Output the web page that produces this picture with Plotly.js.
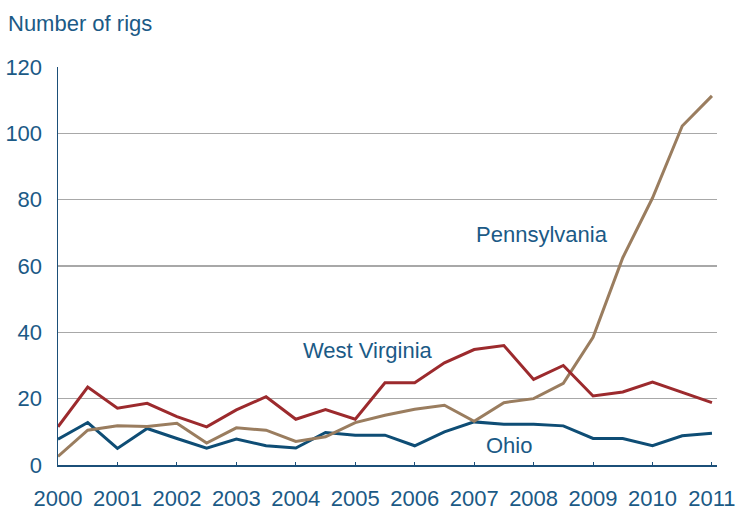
<!DOCTYPE html>
<html>
<head>
<meta charset="utf-8">
<script src="https://cdn.plot.ly/plotly-3.0.1.min.js"></script>
<style>html,body{margin:0;padding:0;background:#fff;}#chart{width:737px;height:510px;}</style>
</head>
<body>
<div id="chart"></div>
<script>
// Half-year observation points
const periods = [2000,2000.5,2001,2001.5,2002,2002.5,2003,2003.5,2004,2004.5,2005,2005.5,2006,2006.5,2007,2007.5,2008,2008.5,2009,2009.5,2010,2010.5,2011];
const westVirginia = [11.5,23.5,17.1,18.6,14.6,11.5,16.6,20.6,13.8,16.7,13.8,24.8,24.8,30.8,34.8,36,25.8,30,20.8,22,25,22,18.8];
const pennsylvania = [2.6,10.5,11.8,11.6,12.6,6.6,11.2,10.5,7.1,8.5,12.8,15,16.8,18,13.2,18.8,20,24.6,38.5,62.5,80.5,102.2,111.3];
const ohio = [7.8,12.8,5,11,8,5.1,7.8,5.8,5.1,9.8,9,9,5.8,10,13,12.3,12.3,11.8,8,8,5.8,8.8,9.6];
const yearTicks = [2000,2001,2002,2003,2004,2005,2006,2007,2008,2009,2010,2011];
const yearLabels = ['2000','2001','2002','2003','2004','2005','2006','2007','2008','2009','2010','2011'];
const yTicks = [0,20,40,60,80,100,120];

const textBlue = '#1B5A86';
const font = 'Liberation Sans, Arial, sans-serif';

const traces = [
  {x: periods, y: ohio, name: 'Ohio', mode: 'lines', line: {color: '#0E4D75', width: 3}},
  {x: periods, y: pennsylvania, name: 'Pennsylvania', mode: 'lines', line: {color: '#9A7D5F', width: 3}},
  {x: periods, y: westVirginia, name: 'West Virginia', mode: 'lines', line: {color: '#9C2A2D', width: 3}}
];

const layout = {
  width: 737, height: 510,
  margin: {l: 57.5, r: 19.5, t: 66.5, b: 45},
  paper_bgcolor: '#fff', plot_bgcolor: '#fff',
  showlegend: false,
  font: {family: font, color: textBlue, size: 22},
  xaxis: {
    range: [2000, 2011.085], tickvals: yearTicks, ticktext: yearLabels,
    showgrid: false, zeroline: false,
    showline: true, linecolor: '#1B4F78', linewidth: 1.5,
    ticks: 'inside', ticklen: 3, tickcolor: '#1B4F78', tickwidth: 1,
    tickfont: {family: font, size: 22, color: textBlue},
    ticklabelstandoff: 13
  },
  yaxis: {
    range: [0, 120], tickvals: yTicks,
    showgrid: true, gridcolor: '#A8A8A8', gridwidth: 1.2,
    zeroline: false,
    showline: true, linecolor: '#1B4F78', linewidth: 1.5,
    ticks: '',
    tickfont: {family: font, size: 22, color: textBlue},
    ticklabelstandoff: 10
  },
  annotations: [
    {text: 'Number of rigs', xref: 'paper', yref: 'paper', x: -52/660, y: 1 + 44/398.5, xanchor: 'left', yanchor: 'middle', showarrow: false, font: {family: font, size: 22, color: textBlue}},
    {text: 'Pennsylvania', xref: 'x', yref: 'y', x: 2008.14, y: 69.5, xanchor: 'center', yanchor: 'middle', showarrow: false, font: {family: font, size: 22, color: textBlue}},
    {text: 'West Virginia', xref: 'x', yref: 'y', x: 2005.21, y: 34.5, xanchor: 'center', yanchor: 'middle', showarrow: false, font: {family: font, size: 22, color: textBlue}},
    {text: 'Ohio', xref: 'x', yref: 'y', x: 2007.58, y: 6.0, xanchor: 'center', yanchor: 'middle', showarrow: false, font: {family: font, size: 22, color: textBlue}}
  ]
};

Plotly.newPlot('chart', traces, layout, {staticPlot: true, displayModeBar: false});
</script>
</body>
</html>
